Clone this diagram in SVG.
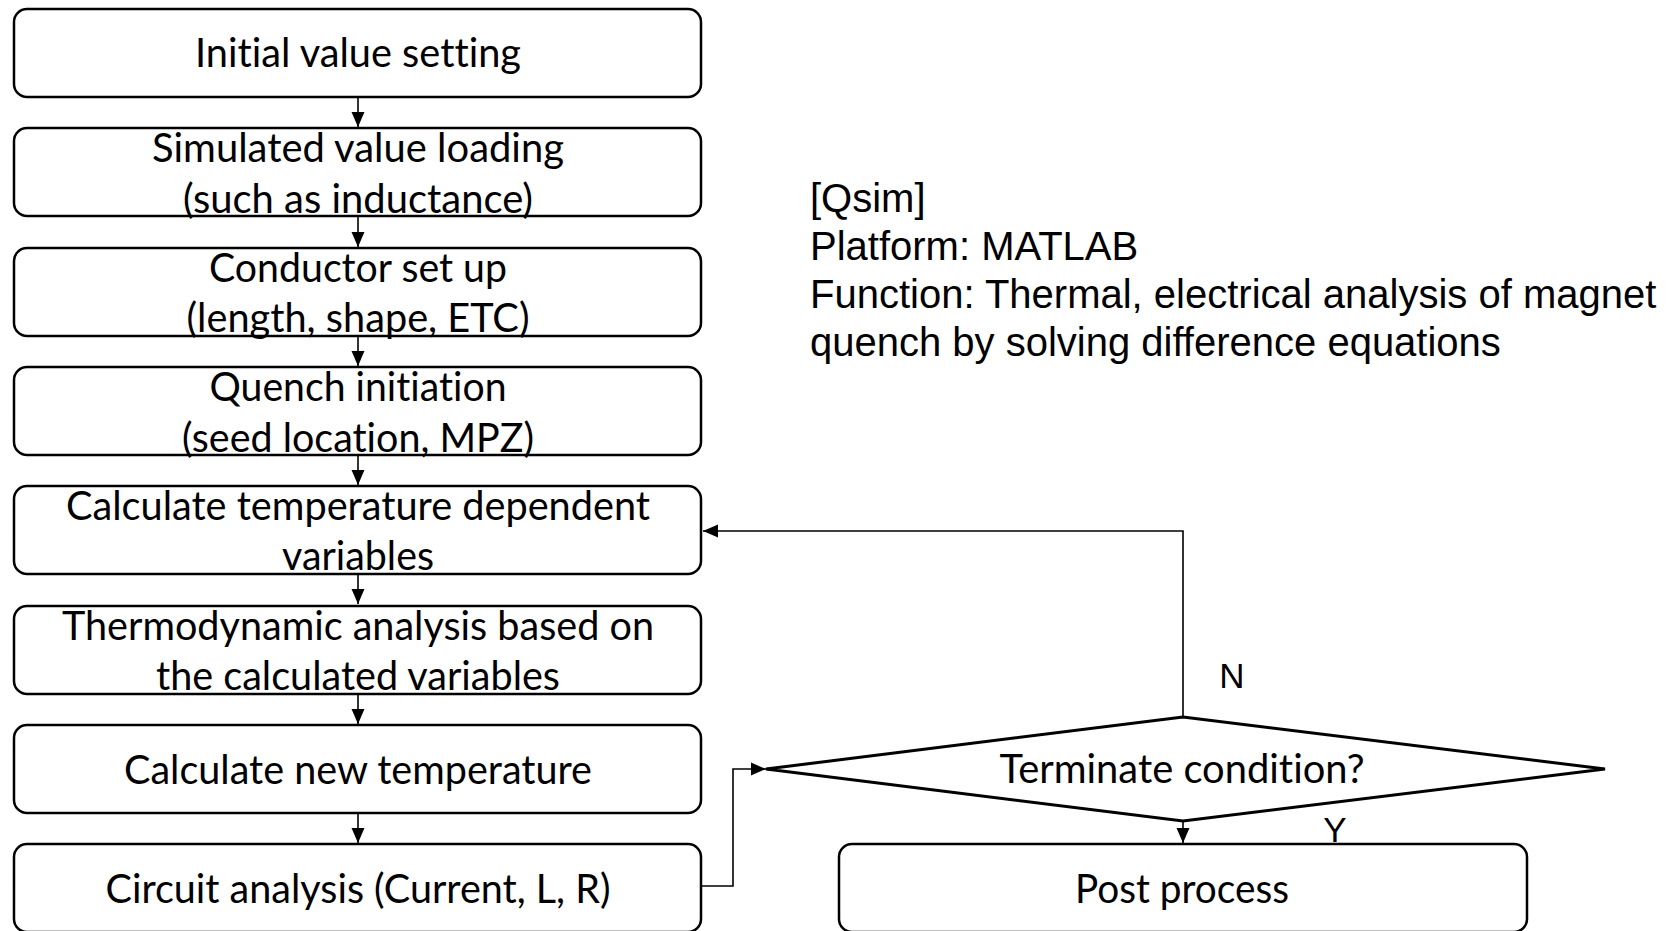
<svg xmlns="http://www.w3.org/2000/svg" width="1674" height="931" viewBox="0 0 1674 931">
  <style>
    .box { fill: #ffffff; stroke: #000000; stroke-width: 2.5; }
    .dia { fill: #ffffff; stroke: #000000; stroke-width: 3; }
    .lbl { font-family: Lato, "Open Sans", sans-serif; font-size: 40px; fill: #000000; text-anchor: middle; font-variant-ligatures: none; }
    .note { font-family: "Liberation Sans", Arial, sans-serif; font-size: 40px; fill: #000000; }
    .yn { font-family: "Liberation Sans", Arial, sans-serif; font-size: 35px; fill: #000000; text-anchor: middle; }
    .wire { fill: none; stroke: #000000; stroke-width: 1.6; }
  </style>
  <defs>
    <marker id="arrow" markerUnits="userSpaceOnUse" markerWidth="16" markerHeight="16" viewBox="0 0 16 16" refX="15" refY="8" orient="auto">
      <path d="M0,1.5 L15,8 L0,14.5 Z" fill="#000000"/>
    </marker>
  </defs>
  <rect width="1674" height="931" fill="#ffffff"/>

  <!-- connectors -->
  <g id="connectors">
    <line class="wire" x1="358" y1="97" x2="358" y2="127" marker-end="url(#arrow)"/>
    <line class="wire" x1="358" y1="216" x2="358" y2="247" marker-end="url(#arrow)"/>
    <line class="wire" x1="358" y1="336" x2="358" y2="366" marker-end="url(#arrow)"/>
    <line class="wire" x1="358" y1="455" x2="358" y2="485" marker-end="url(#arrow)"/>
    <line class="wire" x1="358" y1="574" x2="358" y2="604" marker-end="url(#arrow)"/>
    <line class="wire" x1="358" y1="694" x2="358" y2="724" marker-end="url(#arrow)"/>
    <line class="wire" x1="358" y1="813" x2="358" y2="843" marker-end="url(#arrow)"/>
    <polyline class="wire" points="701,886 733,886 733,769 766,769" marker-end="url(#arrow)"/>
    <polyline class="wire" points="1183,717 1183,531 703,531" marker-end="url(#arrow)"/>
    <line class="wire" x1="1183" y1="821" x2="1183" y2="843" marker-end="url(#arrow)"/>
  </g>

  <g id="n1-initial">
    <rect class="box" x="14" y="9" width="687" height="88" rx="13"/>
    <text class="lbl" x="358" y="67" textLength="326" lengthAdjust="spacingAndGlyphs">Initial value setting</text>
  </g>
  <g id="n2-loading">
    <rect class="box" x="14" y="128" width="687" height="88" rx="13"/>
    <text class="lbl" x="358" y="162" textLength="412" lengthAdjust="spacingAndGlyphs">Simulated value loading</text>
    <text class="lbl" x="358" y="213" textLength="350" lengthAdjust="spacingAndGlyphs">(such as inductance)</text>
  </g>
  <g id="n3-conductor">
    <rect class="box" x="14" y="248" width="687" height="88" rx="13"/>
    <text class="lbl" x="358" y="282" textLength="298" lengthAdjust="spacingAndGlyphs">Conductor set up</text>
    <text class="lbl" x="358" y="332" textLength="343" lengthAdjust="spacingAndGlyphs">(length, shape, ETC)</text>
  </g>
  <g id="n4-quench">
    <rect class="box" x="14" y="367" width="687" height="88" rx="13"/>
    <text class="lbl" x="358" y="401" textLength="297" lengthAdjust="spacingAndGlyphs">Quench initiation</text>
    <text class="lbl" x="358" y="452" textLength="352" lengthAdjust="spacingAndGlyphs">(seed location, MPZ)</text>
  </g>
  <g id="n5-tempvars">
    <rect class="box" x="14" y="486" width="687" height="88" rx="13"/>
    <text class="lbl" x="358" y="520" textLength="584" lengthAdjust="spacingAndGlyphs">Calculate temperature dependent</text>
    <text class="lbl" x="358" y="570" textLength="152" lengthAdjust="spacingAndGlyphs">variables</text>
  </g>
  <g id="n6-thermo">
    <rect class="box" x="14" y="606" width="687" height="88" rx="13"/>
    <text class="lbl" x="358" y="640" textLength="592" lengthAdjust="spacingAndGlyphs">Thermodynamic analysis based on</text>
    <text class="lbl" x="358" y="690" textLength="404" lengthAdjust="spacingAndGlyphs">the calculated variables</text>
  </g>
  <g id="n7-newtemp">
    <rect class="box" x="14" y="725" width="687" height="88" rx="13"/>
    <text class="lbl" x="358" y="784" textLength="468" lengthAdjust="spacingAndGlyphs">Calculate new temperature</text>
  </g>
  <g id="n8-circuit">
    <rect class="box" x="14" y="844" width="687" height="88" rx="13"/>
    <text class="lbl" x="358" y="903" textLength="505" lengthAdjust="spacingAndGlyphs">Circuit analysis (Current, L, R)</text>
  </g>
  <g id="n9-terminate">
    <polygon class="dia" points="766,769 1183,717 1605,769 1183,821"/>
    <text class="lbl" x="1182" y="783" textLength="365" lengthAdjust="spacingAndGlyphs">Terminate condition?</text>
  </g>
  <g id="n10-post">
    <rect class="box" x="839" y="844" width="688" height="88" rx="13"/>
    <text class="lbl" x="1182" y="903" textLength="214" lengthAdjust="spacingAndGlyphs">Post process</text>
  </g>

  <g id="branch-labels">
    <text class="yn" x="1232" y="688">N</text>
    <text class="yn" x="1335" y="842">Y</text>
  </g>

  <g id="description">
    <text class="note" x="810" y="212">[Qsim]</text>
    <text class="note" x="810" y="260">Platform: MATLAB</text>
    <text class="note" x="810" y="308">Function: Thermal, electrical analysis of magnet</text>
    <text class="note" x="810" y="356">quench by solving difference equations</text>
  </g>
</svg>
